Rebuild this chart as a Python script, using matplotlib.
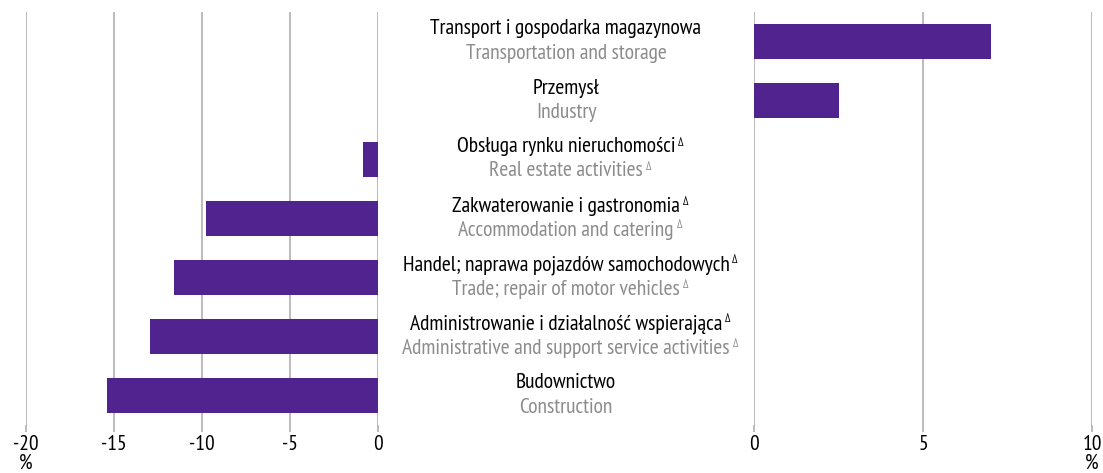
import matplotlib.pyplot as plt
from matplotlib import font_manager

names_pl = ['Transport i gospodarka magazynowa', 'Przemysł', 'Obsługa rynku nieruchomości',
            'Zakwaterowanie i gastronomia', 'Handel; naprawa pojazdów samochodowych',
            'Administrowanie i działalność wspierająca', 'Budownictwo']
names_en = ['Transportation and storage', 'Industry', 'Real estate activities',
            'Accommodation and catering', 'Trade; repair of motor vehicles',
            'Administrative and support service activities', 'Construction']
delta = [False, False, True, True, True, True, False]
values = [7.0, 2.5, -0.85, -9.8, -11.6, -12.95, -15.4]

fams = set(f.name for f in font_manager.fontManager.ttflist)
font = 'DejaVu Sans'
for cand in ['PT Sans Narrow', 'Open Sans Condensed', 'Roboto Condensed', 'Encode Sans Condensed',
             'Archivo Narrow', 'Asap Condensed']:
    if cand in fams:
        font = cand
        break
plt.rcParams['font.family'] = [font, 'DejaVu Sans']

purple = '#51238f'
grid = '#bdbdbd'
W, H = 1103, 473
fig = plt.figure(figsize=(W / 100, H / 100), dpi=100)

# pick a size so the first label matches the reference width (~274 px)
probe = fig.text(0, 0, names_pl[0], fontsize=14)
fig.canvas.draw()
wpx = probe.get_window_extent().width
probe.remove()
fs = 14 * 274 / wpx

ax_l = fig.add_axes([26 / W, 1 - 425 / H, (378 - 26) / W, 413 / H])
ax_r = fig.add_axes([754 / W, 1 - 425 / H, (1092 - 754) / W, 413 / H])

pos = list(range(len(values)))
neg = [v if v < 0 else 0 for v in values]
posv = [v if v > 0 else 0 for v in values]
ax_l.barh(pos, neg, height=0.58, color=purple, zorder=3)
ax_r.barh(pos, posv, height=0.58, color=purple, zorder=3)

for ax, lim, ticks in [(ax_l, (-20, 0), [-20, -15, -10, -5, 0]), (ax_r, (0, 10), [0, 5, 10])]:
    ax.set_xlim(*lim)
    ax.set_ylim(6.5, -0.5)
    ax.set_xticks(ticks)
    ax.set_xticklabels([str(t) for t in ticks])
    ax.set_yticks([])
    for s in ax.spines.values():
        s.set_visible(False)
    ax.grid(axis='x', color=grid, linewidth=1.5, zorder=0)
    ax.tick_params(axis='x', length=5, color=grid, width=1.5, labelsize=fs, pad=2)
    ax.set_facecolor('none')

fig.text(26 / W, 1 - 463 / H, '%', ha='center', va='center', fontsize=fs)
fig.text(1092 / W, 1 - 463 / H, '%', ha='center', va='center', fontsize=fs)

cx = 566 / W
for i in pos:
    yc = 42 + 59 * i
    t1 = fig.text(cx, 1 - (yc - 13) / H, names_pl[i], ha='center', va='center',
                  fontsize=fs, color='black')
    t2 = fig.text(cx, 1 - (yc + 11) / H, names_en[i], ha='center', va='center',
                  fontsize=fs, color='#8c8c8c')
    if delta[i]:
        for t, c in [(t1, 'black'), (t2, '#8c8c8c')]:
            ax_l.annotate('Δ', xy=(1, 1), xycoords=t, xytext=(2, 0), textcoords='offset points',
                          ha='left', va='top', fontsize=fs * 0.55, color=c, annotation_clip=False)

fig.savefig('out.png', dpi=100)
